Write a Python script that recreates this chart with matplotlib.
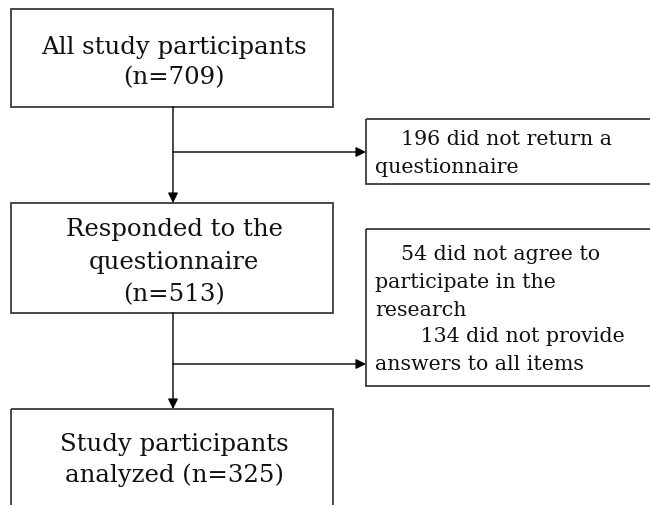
import matplotlib.pyplot as plt
from matplotlib.patches import Rectangle, FancyArrowPatch

# Flowchart content
main_labels = [
    ["All study participants", "(n=709)"],
    ["Responded to the", "questionnaire", "(n=513)"],
    ["Study participants", "analyzed (n=325)"],
]
side_labels = [
    ["    196 did not return a", "questionnaire"],
    ["    54 did not agree to", "participate in the", "research",
     "       134 did not provide", "answers to all items"],
]

# Layout (pixel units, y grows downward)
W, H = 650, 505
MAIN_X0, MAIN_X1 = 11, 333
MAIN_BOXES = [(9, 107), (203, 313), (409, 530)]
MAIN_BASELINES = [[54, 84], [236, 269, 301], [451, 482]]
SIDE_X0, SIDE_X1 = 366, 660
SIDE_BOXES = [(119, 184), (229, 386)]
SIDE_BASELINES = [[145, 173], [260, 288, 316, 342, 370]]
BRANCH_Y = [152, 364]
SPINE_X = 173
TEXT_X = 375

BOX_COLOR = "#3a3a3a"
FONT = "DejaVu Serif"


def arrow(ax, p0, p1):
    a = FancyArrowPatch(p0, p1, arrowstyle="-|>", mutation_scale=15,
                        color="black", lw=1.0, shrinkA=0, shrinkB=0)
    ax.add_patch(a)


fig = plt.figure(figsize=(W / 100, H / 100), dpi=100)
ax = fig.add_axes([0, 0, 1, 1])
ax.set_xlim(0, W)
ax.set_ylim(H, 0)
ax.axis("off")

for (y0, y1), lines, bases in zip(MAIN_BOXES, main_labels, MAIN_BASELINES):
    ax.add_patch(Rectangle((MAIN_X0, y0), MAIN_X1 - MAIN_X0, y1 - y0,
                           fill=False, edgecolor=BOX_COLOR, lw=1.3))
    for txt, yb in zip(lines, bases):
        ax.text((MAIN_X0 + MAIN_X1) / 2 + 2, yb, txt, ha="center", va="baseline",
                fontsize=17.6, family=FONT, color="#111111")

for (y0, y1), lines, bases in zip(SIDE_BOXES, side_labels, SIDE_BASELINES):
    ax.add_patch(Rectangle((SIDE_X0, y0), SIDE_X1 - SIDE_X0, y1 - y0,
                           fill=False, edgecolor=BOX_COLOR, lw=1.3, clip_on=True))
    for txt, yb in zip(lines, bases):
        ax.text(TEXT_X, yb, txt, ha="left", va="baseline",
                fontsize=14.8, family=FONT, color="#111111")

# connectors
for i in range(2):
    top = MAIN_BOXES[i][1]
    nxt = MAIN_BOXES[i + 1][0]
    arrow(ax, (SPINE_X, top), (SPINE_X, nxt))
    arrow(ax, (SPINE_X, BRANCH_Y[i]), (SIDE_X0, BRANCH_Y[i]))

fig.savefig("out.png", dpi=100)
